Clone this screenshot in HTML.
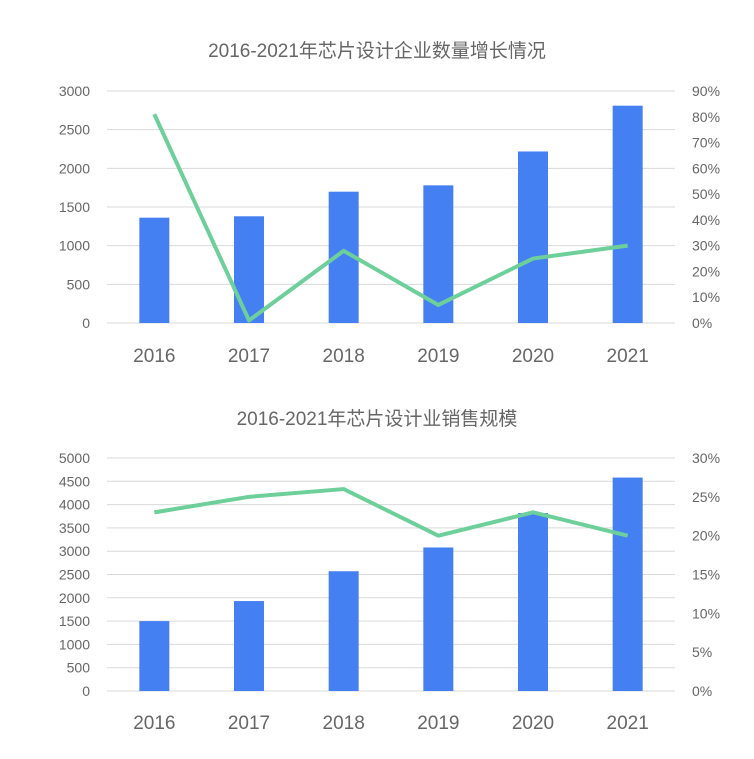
<!DOCTYPE html>
<html><head><meta charset="utf-8"><style>
body{margin:0;background:#fff;}
svg text{font-family:"Liberation Sans","Noto Sans CJK SC",sans-serif;fill:#666;}
</style></head><body>
<svg width="754" height="754" xmlns="http://www.w3.org/2000/svg">
<g id="c1"></g>
<g id="c2"></g>
</svg>
<script>
const years=["2016","2017","2018","2019","2020","2021"];
const companyCounts=[1362,1380,1698,1780,2218,2810];
const companyGrowth=[81,1,28,7,25,30];
const salesValues=[1500,1930,2570,3080,3820,4580];
const salesGrowth=[23,25,26,20,23,20];
const leftTicks1=[0,500,1000,1500,2000,2500,3000];
const rightTicks1=[0,10,20,30,40,50,60,70,80,90];
const leftTicks2=[0,500,1000,1500,2000,2500,3000,3500,4000,4500,5000];
const rightTicks2=[0,5,10,15,20,25,30];
const NS="http://www.w3.org/2000/svg";
function mk(p,t,a,txt){const e=document.createElementNS(NS,t);for(const k in a)e.setAttribute(k,a[k]);if(txt!==undefined)e.textContent=txt;p.appendChild(e);return e;}
function chart(g,title,titleY,top,bottom,lt,lmax,rt,rmax,bars,line,yearY,nm){
 const L=107,R=675,bw=(R-L)/years.length;
 const y=v=>bottom-(v/lmax)*(bottom-top);
 const yr=v=>bottom-(v/rmax)*(bottom-top);
 const x=i=>L+bw*(i+0.5);
 const t=mk(g,"text",{x:377,y:titleY,"text-anchor":"middle","font-size":19,fill:"#555"},title);
 
 
 lt.forEach(v=>{
  const l=mk(g,"line",{x1:L,x2:R,y1:y(v),y2:y(v),stroke:"#d9d9d9","stroke-width":1});
  
  
  const tx=mk(g,"text",{x:90,y:y(v)+5,"text-anchor":"end","font-size":14},String(v));
  
  
 });
 rt.forEach(v=>{
  const tx=mk(g,"text",{x:692,y:yr(v)+5,"text-anchor":"start","font-size":14},v+"%");
  
  
 });
 bars.forEach((v,i)=>{
  const b=mk(g,"rect",{x:x(i)-15,y:y(v),width:30,height:bottom-y(v),fill:"#4480f2"});
  
  
  const tx=mk(g,"text",{x:x(i),y:yearY,"text-anchor":"middle","font-size":19},years[i]);
  
  
 });
 const pl=mk(g,"polyline",{points:line.map((v,i)=>x(i)+","+yr(v)).join(" "),fill:"none",stroke:"#6dcf9a","stroke-width":4,"stroke-linejoin":"round"});
 
 
}
chart(document.getElementById("c1"),"2016-2021年芯片设计企业数量增长情况",57,91,323,leftTicks1,3000,rightTicks1,90,companyCounts,companyGrowth,362,"companies");
chart(document.getElementById("c2"),"2016-2021年芯片设计业销售规模",425,458,691,leftTicks2,5000,rightTicks2,30,salesValues,salesGrowth,729,"sales");
</script>
</body></html>
